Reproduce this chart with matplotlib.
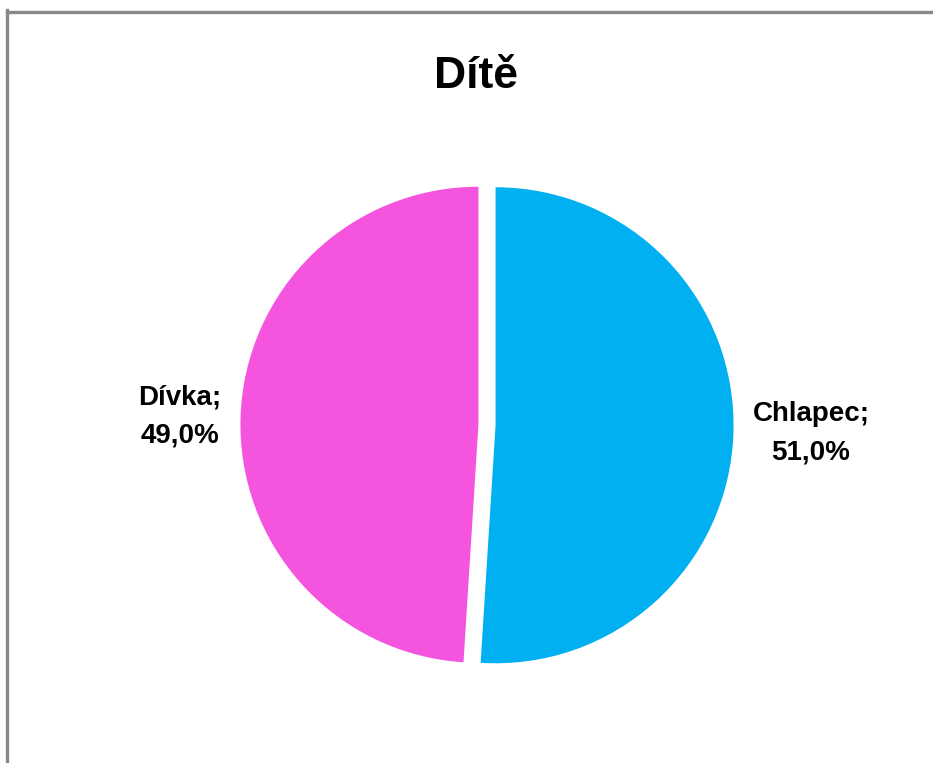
import matplotlib
matplotlib.use("Agg")
import matplotlib.pyplot as plt
from matplotlib.lines import Line2D

categories = ["Chlapec", "Dívka"]
values = [51.0, 49.0]
colors = ["#00B0F0", "#F454DE"]
title = "Dítě"

W, H = 933, 763
fig = plt.figure(figsize=(W / 100, H / 100), dpi=100)
fig.patch.set_facecolor("white")

R = 238.0
cx, cy = 487.0, 425.0  # pixels from top-left
half = 320.0
ax = fig.add_axes([(cx - half) / W, (H - cy - half) / H, 2 * half / W, 2 * half / H])

labels = [f"{c};\n{v:.1f}%".replace(".", ",") for c, v in zip(categories, values)]
wedges, texts = ax.pie(values, colors=colors, startangle=90, counterclock=False,
                       explode=[0.036, 0.036], labels=labels, labeldistance=1.08,
                       wedgeprops=dict(linewidth=0),
                       textprops=dict(fontsize=20, fontweight="bold", family="Liberation Sans",
                                      color="black", linespacing=1.6))
for t in texts:
    t.set_multialignment("center")
ax.set_xlim(-half / R, half / R)
ax.set_ylim(-half / R, half / R)
ax.set_aspect("equal")
ax.axis("off")

fig.text(476 / W, 1 - 76 / H, title, ha="center", va="center", fontsize=32,
         fontweight="bold", family="Liberation Sans", color="black")

# frame (left and top edges visible)
fig.add_artist(Line2D([7.5 / W, 7.5 / W], [0, 1 - 10 / H], transform=fig.transFigure,
                      color="#888888", linewidth=2.4, solid_capstyle="projecting"))
fig.add_artist(Line2D([7.5 / W, 1], [1 - 11.5 / H, 1 - 11.5 / H], transform=fig.transFigure,
                      color="#888888", linewidth=2.4, solid_capstyle="projecting"))

fig.savefig("out.png", dpi=100)
